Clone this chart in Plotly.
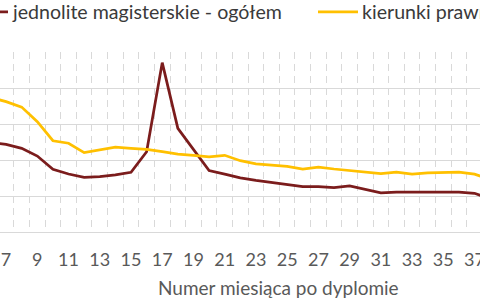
import plotly.graph_objects as go

months = list(range(6, 39))
tick_months = list(range(7, 38, 2))

jednolite = [4.96, 4.87, 4.65, 4.22, 3.48, 3.22, 3.04, 3.07, 3.17, 3.32, 4.46, 9.41, 5.76, 4.56,
             3.41, 3.22, 3.01, 2.87, 2.76, 2.65, 2.52, 2.52, 2.46, 2.56, 2.37, 2.18, 2.22, 2.22,
             2.22, 2.22, 2.22, 2.15, 1.85]
prawnicze = [7.48, 7.24, 6.94, 6.13, 5.07, 4.93, 4.41, 4.56, 4.71, 4.65, 4.59, 4.46, 4.33, 4.26,
             4.18, 4.26, 3.96, 3.78, 3.71, 3.65, 3.50, 3.61, 3.50, 3.41, 3.32, 3.24, 3.33, 3.21,
             3.28, 3.29, 3.33, 3.21, 2.93]

name1 = "jednolite magisterskie - ogółem"
name2 = "kierunki prawnicze"
x_title = "Numer miesiąca po dyplomie"

FONT = "Lato"
RED = "#7b1c1c"
GOLD = "#ffc000"
W, H = 480, 300
T, B = 52, 68
PH = H - T - B


def px_x(p):
    return p / W


def px_y(p):
    return (H - B - p) / PH


fig = go.Figure()
fig.add_trace(go.Scatter(x=months, y=jednolite, mode="lines", name=name1,
                         line=dict(color=RED, width=2.75), showlegend=False))
fig.add_trace(go.Scatter(x=months, y=prawnicze, mode="lines", name=name2,
                         line=dict(color=GOLD, width=2.75), showlegend=False))

# legend drawn as line samples + text
leg_y = px_y(11.8)
for (x0, x1, tx, col, txt) in [(-30, 8, 10, RED, name1), (318, 358, 360, GOLD, name2)]:
    fig.add_shape(type="line", xref="paper", yref="paper", x0=px_x(x0), x1=px_x(x1),
                  y0=leg_y, y1=leg_y, line=dict(color=col, width=2.75))
    fig.add_annotation(xref="paper", yref="paper", x=px_x(tx), y=leg_y, text=txt,
                       showarrow=False, xanchor="left", yanchor="middle",
                       font=dict(family=FONT, size=19.6, color="#3a3a3a"))

fig.add_annotation(xref="paper", yref="paper", x=px_x(278), y=px_y(287), text=x_title,
                   showarrow=False, xanchor="center", yanchor="middle",
                   font=dict(family=FONT, size=19, color="#595959"))

fig.update_layout(
    width=W, height=H,
    margin=dict(l=0, r=0, t=T, b=B, autoexpand=False),
    paper_bgcolor="white", plot_bgcolor="white",
    font=dict(family=FONT, color="#404040", size=16),
    showlegend=False,
    xaxis=dict(range=[6.61, 37.35], tickmode="array", tickvals=tick_months,
               ticktext=[str(m) for m in tick_months], ticklabeloverflow="allow",
               showgrid=False, zeroline=False, showline=True, linecolor="#d9d9d9", linewidth=1,
               ticks="outside", ticklen=11, tickcolor="rgba(0,0,0,0)",
               tickfont=dict(family=FONT, size=18, color="#595959"),
               minor=dict(tick0=6.5, dtick=1, showgrid=True, gridcolor="#d9d9d9",
                          griddash="7px,5px", gridwidth=1)),
    yaxis=dict(range=[0, 10], dtick=2, showgrid=True, gridcolor="#d9d9d9", gridwidth=1,
               zeroline=False, showticklabels=False, showline=False),
)

fig.write_html("out.html")
